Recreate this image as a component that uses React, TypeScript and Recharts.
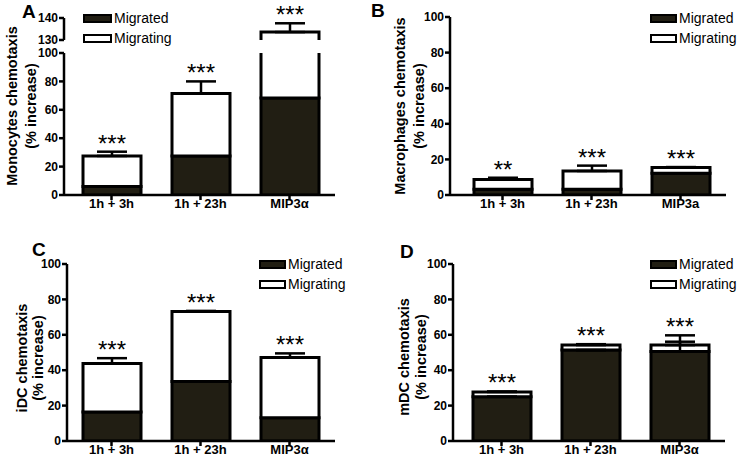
import React from 'react'
import { BarChart, Bar, XAxis, YAxis, ErrorBar, LabelList, Legend, Label } from 'recharts'

const FONT = '"Liberation Sans", Arial, sans-serif'
const DARK = '#211e13'

// A: Monocytes
const categoriesA = ['1h + 3h', '1h + 23h', 'MIP3α']
const migratedA = [6, 27.5, 68.3]
const migratingA = [21.5, 44, 65.3]
const errorA = [3, 8.5, 4]
const starsA = ['***', '***', '***']

// B: Macrophages
const categoriesB = ['1h + 3h', '1h + 23h', 'MIP3a']
const migratedB = [3.3, 3.2, 12.2]
const migratingB = [5.4, 10.3, 3.2]
const errorB = [1, 3, 0.3]
const starsB = ['**', '***', '***']

// C: iDC
const categoriesC = ['1h + 3h', '1h + 23h', 'MIP3α']
const migratedC = [16.4, 33.6, 13.2]
const migratingC = [27.4, 39.5, 34]
const errorC = [3, 0.4, 2.3]
const starsC = ['***', '***', '***']

// D: mDC
const categoriesD = ['1h + 3h', '1h + 23h', 'MIP3α']
const migratedD = [25, 51.4, 50.5]
const migratingD = [2.7, 2.8, 3.7]
const errorD = [0.3, 0.5, 5.5]
const migratedErrorD = [0, 0, 5.6]
const starsD = ['***', '***', '***']

const yTicks = [0, 20, 40, 60, 80, 100]
const yTicksBreak = [130, 140]

type Row = {
  cat: string
  migrated: number
  migrating: number
  total: number
  top: number
  errRange: number[]
  migratedErrRange: number[]
  stars: string
}

function buildRows(cats: string[], migrated: number[], migrating: number[], err: number[], stars: string[], migratedErr?: number[]): Row[] {
  return cats.map((cat, i) => ({
    cat,
    migrated: migrated[i],
    migrating: migrating[i],
    total: migrated[i] + migrating[i],
    top: migrated[i] + migrating[i] + err[i],
    errRange: [0, err[i]],
    migratedErrRange: [0, migratedErr ? migratedErr[i] : 0],
    stars: stars[i],
  }))
}

const rowsA = buildRows(categoriesA, migratedA, migratingA, errorA, starsA)
const rowsB = buildRows(categoriesB, migratedB, migratingB, errorB, starsB)
const rowsC = buildRows(categoriesC, migratedC, migratingC, errorC, starsC)
const rowsD = buildRows(categoriesD, migratedD, migratingD, errorD, starsD, migratedErrorD)

// floating bars so the broken axis can clip them instead of truncating
const migratedSpan = (r: Row) => [0, r.migrated]
const migratingSpan = (r: Row) => [r.migrated, r.total]
const errorSpan = (r: Row) => [r.total, r.top]

const axisStyle = { stroke: '#000', strokeWidth: 2.5 }

function legendContent(boxWidth: number) {
  return (props: any) => {
    const items = (props.payload || []).filter((p: any) => p.type !== 'none')
    return (
      <div style={{ fontFamily: FONT, fontSize: 14, color: '#000' }}>
        {items.map((p: any) => (
          <div key={p.value} style={{ display: 'flex', alignItems: 'center', height: 20 }}>
            <div
              style={{
                width: boxWidth - 5,
                height: 5,
                border: '2.5px solid #000',
                background: p.color,
                marginRight: 2,
              }}
            />
            <span>{p.value}</span>
          </div>
        ))}
      </div>
    )
  }
}

type PanelProps = {
  rows: Row[]
  left: number
  top: number
  width: number
  height: number
  margin: { top: number; right: number; bottom: number; left: number }
  domain: [number, number]
  ticks: number[]
  padLeft: number
  barSize: number
  showX?: boolean
  legend?: { left: number; top: number; box: number }
  yLabel?: { lines: string[]; x1: number; x2: number; cy: number }
  showMigratedErr?: boolean
}

function Panel({ rows, left, top, width, height, margin, domain, ticks, padLeft, barSize, showX = true, legend, yLabel, showMigratedErr }: PanelProps) {
  // a bar belongs to this axis segment only if its top end sits inside the domain
  const inRange = (r: Row) => r.top <= domain[1] && r.total >= domain[0]
  const errKey = (r: Row) => (inRange(r) ? r.errRange : undefined)
  const migratedErrKey = (r: Row) => (inRange(r) ? r.migratedErrRange : undefined)

  const starContent = (props: any) => {
    const { x, y, width: w, index } = props
    const r = rows[index]
    if (!r || !inRange(r)) return null
    return (
      <text x={x + w / 2} y={y} textAnchor="middle" fontSize={24} fontFamily={FONT} fill="#000">
        {r.stars}
      </text>
    )
  }
  const labelContent = () => {
    if (!yLabel) return null
    return (
      <g fontFamily={FONT} fontWeight={700} fontSize={14.5} fill="#000">
        <text x={yLabel.x1} y={yLabel.cy} textAnchor="middle" transform={`rotate(-90, ${yLabel.x1}, ${yLabel.cy})`}>
          {yLabel.lines[0]}
        </text>
        <text x={yLabel.x2} y={yLabel.cy} textAnchor="middle" transform={`rotate(-90, ${yLabel.x2}, ${yLabel.cy})`}>
          {yLabel.lines[1]}
        </text>
      </g>
    )
  }
  const pad = { left: padLeft, right: 1 }
  return (
    <div style={{ position: 'absolute', left, top, width, height }}>
      <BarChart width={width} height={height} data={rows} margin={margin} barSize={barSize}>
        <XAxis
          xAxisId="a"
          dataKey="cat"
          hide={!showX}
          height={20}
          interval={0}
          padding={pad}
          axisLine={axisStyle}
          tickLine={axisStyle}
          tickSize={5}
          tickMargin={-1}
          tick={{ fill: '#000', fontSize: 13, fontWeight: 700, fontFamily: FONT }}
        />
        <XAxis xAxisId="b" dataKey="cat" hide padding={pad} />
        <XAxis xAxisId="c" dataKey="cat" hide padding={pad} />
        <YAxis
          type="number"
          width={40}
          domain={domain}
          ticks={ticks}
          allowDataOverflow
          interval={0}
          minTickGap={0}
          axisLine={axisStyle}
          tickLine={axisStyle}
          tickSize={5}
          tickMargin={1}
          tick={{ fill: '#000', fontSize: 12, fontWeight: 700, fontFamily: FONT }}
        >
          {yLabel && <Label content={labelContent} />}
        </YAxis>
        {legend && (
          <Legend
            layout="vertical"
            verticalAlign="middle"
            align="center"
            content={legendContent(legend.box)}
            wrapperStyle={{ left: legend.left, top: legend.top, width: 'auto', height: 'auto' }}
          />
        )}
        <Bar xAxisId="a" dataKey={migratedSpan} name="Migrated" fill={DARK} stroke="#000" strokeWidth={3} isAnimationActive={false}>
          {showMigratedErr && <ErrorBar dataKey={migratedErrKey} width={15} stroke="#000" strokeWidth={2.5} />}
        </Bar>
        <Bar xAxisId="b" dataKey={migratingSpan} name="Migrating" fill="#fff" stroke="#000" strokeWidth={3} isAnimationActive={false}>
          <ErrorBar dataKey={errKey} width={15} stroke="#000" strokeWidth={2.5} />
        </Bar>
        <Bar xAxisId="c" dataKey={errorSpan} fill="transparent" legendType="none" isAnimationActive={false}>
          <LabelList dataKey="stars" content={starContent} />
        </Bar>
      </BarChart>
    </div>
  )
}

const letterStyle: React.CSSProperties = {
  position: 'absolute',
  fontFamily: FONT,
  fontWeight: 700,
  fontSize: 19,
  lineHeight: '19px',
  color: '#000',
}

export default function App() {
  return (
    <div style={{ position: 'absolute', left: 0, top: 0, width: 741, height: 462, background: '#fff', overflow: 'hidden' }}>
      {/* A: broken axis, lower part 0-100 */}
      <Panel
        rows={rowsA}
        left={0}
        top={0}
        width={370}
        height={231}
        margin={{ top: 53, right: 35, bottom: 16, left: 24 }}
        domain={[0, 100]}
        ticks={yTicks}
        padLeft={3}
        barSize={58}
        legend={{ left: 83, top: 8, box: 30 }}
        yLabel={{ lines: ['Monocytes chemotaxis', '(% increase)'], x1: 17, x2: 36, cy: 106 }}
      />
      {/* A: upper part 130-140 */}
      <Panel
        rows={rowsA}
        left={0}
        top={0}
        width={370}
        height={60}
        margin={{ top: 18, right: 35, bottom: 20, left: 24 }}
        domain={[130, 140]}
        ticks={yTicksBreak}
        padLeft={3}
        barSize={58}
        showX={false}
      />
      <Panel
        rows={rowsB}
        left={370}
        top={0}
        width={371}
        height={231}
        margin={{ top: 17, right: 15, bottom: 16, left: 40 }}
        domain={[0, 100]}
        ticks={yTicks}
        padLeft={8}
        barSize={58}
        legend={{ left: 280, top: 8, box: 28 }}
        yLabel={{ lines: ['Macrophages chemotaxis', '(% increase)'], x1: 35, x2: 54, cy: 106 }}
      />
      <Panel
        rows={rowsC}
        left={0}
        top={231}
        width={370}
        height={231}
        margin={{ top: 33, right: 35, bottom: 1, left: 27 }}
        domain={[0, 100]}
        ticks={yTicks}
        padLeft={0}
        barSize={58}
        legend={{ left: 259, top: 23, box: 28 }}
        yLabel={{ lines: ['iDC chemotaxis', '(% increase)'], x1: 27, x2: 43, cy: 127 }}
      />
      <Panel
        rows={rowsD}
        left={370}
        top={231}
        width={371}
        height={231}
        margin={{ top: 33, right: 16, bottom: 1, left: 43 }}
        domain={[0, 100]}
        ticks={yTicks}
        padLeft={4}
        barSize={58}
        legend={{ left: 280, top: 23, box: 28 }}
        yLabel={{ lines: ['mDC chemotaxis', '(% increase)'], x1: 39, x2: 56, cy: 126 }}
        showMigratedErr
      />
      <div style={{ ...letterStyle, left: 22, top: 2 }}>A</div>
      <div style={{ ...letterStyle, left: 371, top: 1 }}>B</div>
      <div style={{ ...letterStyle, left: 32, top: 240 }}>C</div>
      <div style={{ ...letterStyle, left: 400, top: 242 }}>D</div>
    </div>
  )
}
